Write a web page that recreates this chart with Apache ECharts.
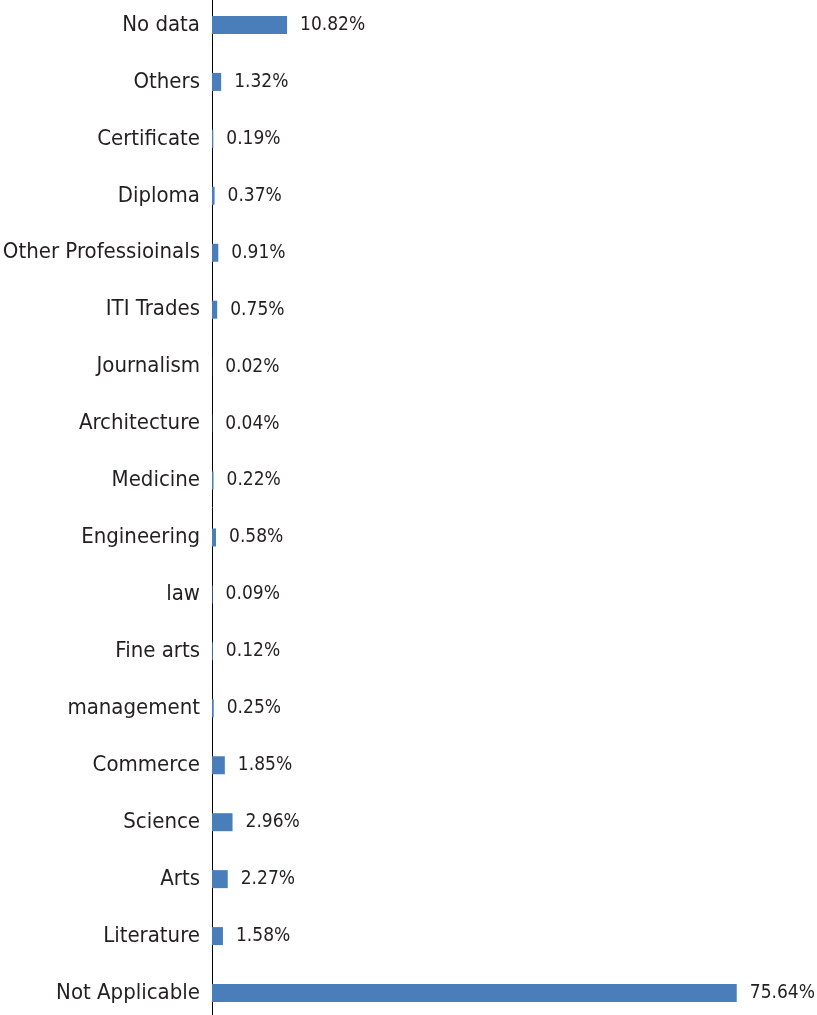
<!DOCTYPE html>
<html><head><meta charset="utf-8">
<script src="https://cdn.jsdelivr.net/npm/echarts@6/dist/echarts.min.js"></script>
<style>html,body{margin:0;padding:0;background:#fff}#c{width:817px;height:1015px}</style>
</head><body><div id="c"></div>
<script>
// bottom to top
const categories = ["Not Applicable","Literature","Arts","Science","Commerce","management","Fine arts","law","Engineering","Medicine","Architecture","Journalism","ITI Trades","Other Professioinals","Diploma","Certificate","Others","No data"];
const values = [75.64,1.58,2.27,2.96,1.85,0.25,0.12,0.09,0.58,0.22,0.04,0.02,0.75,0.91,0.37,0.19,1.32,10.82];
const FONT = "'DejaVu Sans Condensed','Liberation Sans Narrow',sans-serif";
const chart = echarts.init(document.getElementById('c'));
chart.setOption({
  animation:false,
  grid:{left:212,right:50,top:-3.5,bottom:-6.5,containLabel:false,outerBoundsMode:'none'},
  xAxis:{type:'value',min:0,max:80,show:false},
  yAxis:{type:'category',data:categories,
    axisLine:{show:true,lineStyle:{color:'#000',width:1}},
    axisTick:{show:false},
    axisLabel:{color:'#231f20',fontFamily:FONT,fontSize:22,margin:12}},
  series:[{type:'bar',data:values,barWidth:18,
    itemStyle:{color:'#4a7ebb'},
    label:{show:true,position:'right',distance:13,color:'#231f20',fontFamily:FONT,fontSize:19,
      formatter:p=>p.value.toFixed(2)+'%'}}]
});
</script></body></html>
